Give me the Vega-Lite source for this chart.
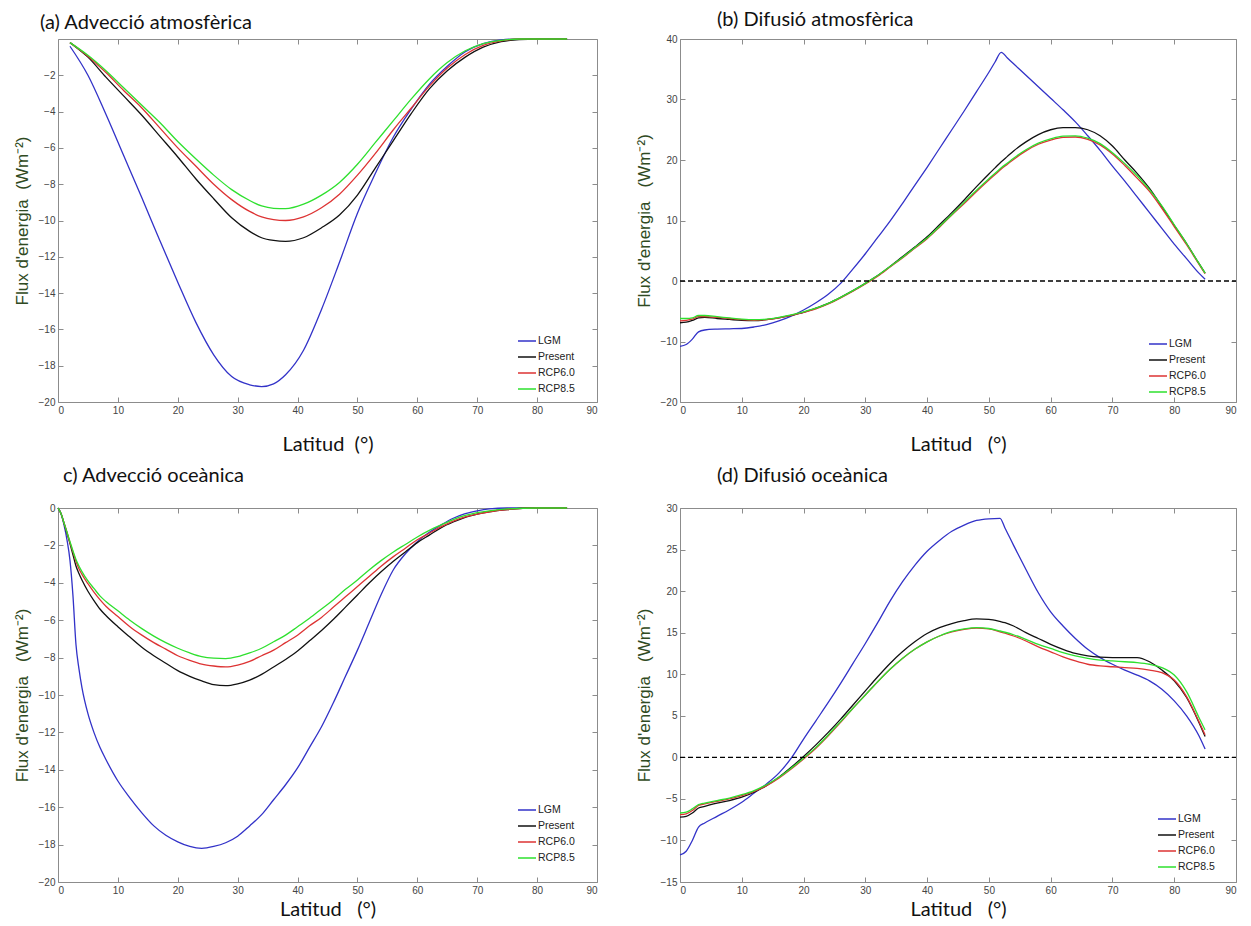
{
  "$schema": "https://vega.github.io/schema/vega-lite/v6.json",
  "background": "white",
  "padding": {"left": 12, "top": 9, "right": 5, "bottom": 5},
  "config": {
    "view": {"stroke": "#8c8c8c", "strokeWidth": 1},
    "axis": {"grid": false, "domain": false, "tickSize": -5, "tickColor": "#8c8c8c", "labelPadding": 8, "labelFont": "Liberation Sans", "labelFontSize": 10, "labelColor": "#444444", "titleFontWeight": "normal"},
    "axisX": {"titleFont": "Lato", "titleFontSize": 20, "titleColor": "#111111", "titlePadding": 19},
    "axisY": {"titleFont": "Liberation Sans", "titleFontSize": 17, "titleColor": "#2f4a22", "titlePadding": 7},
    "title": {"font": "Lato", "fontSize": 20, "fontWeight": "normal", "anchor": "start", "frame": "group", "color": "#111111", "baseline": "alphabetic"},
    "legend": {"orient": "none", "title": null, "symbolType": "stroke", "symbolSize": 324, "symbolStrokeWidth": 1.5, "labelFont": "Liberation Sans", "labelFontSize": 10.5, "labelColor": "#222222", "labelOffset": 1, "rowPadding": -6}
  },
  "datasets": {
    "a": [
      {"lat": 2, "LGM": -0.4, "Present": -0.2, "RCP60": -0.2, "RCP85": -0.2},
      {"lat": 5, "LGM": -2.0, "Present": -1.0, "RCP60": -0.95, "RCP85": -0.9},
      {"lat": 8, "LGM": -4.15, "Present": -2.1, "RCP60": -1.85, "RCP85": -1.75},
      {"lat": 11, "LGM": -6.45, "Present": -3.15, "RCP60": -2.85, "RCP85": -2.7},
      {"lat": 14, "LGM": -8.75, "Present": -4.2, "RCP60": -3.8, "RCP85": -3.65},
      {"lat": 17, "LGM": -11.1, "Present": -5.35, "RCP60": -4.9, "RCP85": -4.6},
      {"lat": 20, "LGM": -13.4, "Present": -6.5, "RCP60": -6.0, "RCP85": -5.65},
      {"lat": 23, "LGM": -15.6, "Present": -7.7, "RCP60": -7.0, "RCP85": -6.6},
      {"lat": 26, "LGM": -17.4, "Present": -8.8, "RCP60": -8.0, "RCP85": -7.5},
      {"lat": 29, "LGM": -18.6, "Present": -9.85, "RCP60": -8.85, "RCP85": -8.3},
      {"lat": 32, "LGM": -19.05, "Present": -10.6, "RCP60": -9.5, "RCP85": -8.9},
      {"lat": 34, "LGM": -19.15, "Present": -10.95, "RCP60": -9.8, "RCP85": -9.2},
      {"lat": 36, "LGM": -19.0, "Present": -11.1, "RCP60": -9.95, "RCP85": -9.33},
      {"lat": 38, "LGM": -18.5, "Present": -11.15, "RCP60": -10.0, "RCP85": -9.35},
      {"lat": 41, "LGM": -17.15, "Present": -10.95, "RCP60": -9.8, "RCP85": -9.1},
      {"lat": 44, "LGM": -14.9, "Present": -10.4, "RCP60": -9.3, "RCP85": -8.6},
      {"lat": 47, "LGM": -12.3, "Present": -9.7, "RCP60": -8.55, "RCP85": -7.9},
      {"lat": 50, "LGM": -9.6, "Present": -8.6, "RCP60": -7.5, "RCP85": -6.9},
      {"lat": 53, "LGM": -7.4, "Present": -7.1, "RCP60": -6.3, "RCP85": -5.7},
      {"lat": 56, "LGM": -5.4, "Present": -5.6, "RCP60": -5.0, "RCP85": -4.5},
      {"lat": 59, "LGM": -3.85, "Present": -4.1, "RCP60": -3.8, "RCP85": -3.3},
      {"lat": 62, "LGM": -2.5, "Present": -2.75, "RCP60": -2.6, "RCP85": -2.2},
      {"lat": 65, "LGM": -1.5, "Present": -1.75, "RCP60": -1.6, "RCP85": -1.3},
      {"lat": 68, "LGM": -0.7, "Present": -1.0, "RCP60": -0.85, "RCP85": -0.65},
      {"lat": 71, "LGM": -0.25, "Present": -0.45, "RCP60": -0.35, "RCP85": -0.25},
      {"lat": 74, "LGM": -0.05, "Present": -0.15, "RCP60": -0.1, "RCP85": -0.07},
      {"lat": 77, "LGM": 0, "Present": -0.03, "RCP60": 0, "RCP85": 0},
      {"lat": 80, "LGM": 0, "Present": 0, "RCP60": 0, "RCP85": 0},
      {"lat": 85, "LGM": 0, "Present": 0, "RCP60": 0, "RCP85": 0}
    ],
    "b": [
      {"lat": 0, "LGM": -10.8, "Present": -6.9, "RCP60": -6.6, "RCP85": -6.2},
      {"lat": 1, "LGM": -10.5, "Present": -6.8, "RCP60": -6.5, "RCP85": -6.2},
      {"lat": 2, "LGM": -9.6, "Present": -6.5, "RCP60": -6.3, "RCP85": -6.1},
      {"lat": 3, "LGM": -8.4, "Present": -6.1, "RCP60": -5.9, "RCP85": -5.7},
      {"lat": 4, "LGM": -8.1, "Present": -6.0, "RCP60": -5.9, "RCP85": -5.7},
      {"lat": 6, "LGM": -7.95, "Present": -6.2, "RCP60": -6.0, "RCP85": -5.9},
      {"lat": 8, "LGM": -7.9, "Present": -6.35, "RCP60": -6.2, "RCP85": -6.1},
      {"lat": 10, "LGM": -7.85, "Present": -6.5, "RCP60": -6.4, "RCP85": -6.3},
      {"lat": 12, "LGM": -7.6, "Present": -6.55, "RCP60": -6.5, "RCP85": -6.4},
      {"lat": 14, "LGM": -7.2, "Present": -6.4, "RCP60": -6.4, "RCP85": -6.3},
      {"lat": 16, "LGM": -6.6, "Present": -6.1, "RCP60": -6.1, "RCP85": -6.0},
      {"lat": 18, "LGM": -5.8, "Present": -5.7, "RCP60": -5.7, "RCP85": -5.6},
      {"lat": 20, "LGM": -4.8, "Present": -5.2, "RCP60": -5.2, "RCP85": -5.1},
      {"lat": 22, "LGM": -3.6, "Present": -4.5, "RCP60": -4.6, "RCP85": -4.5},
      {"lat": 24, "LGM": -2.2, "Present": -3.7, "RCP60": -3.8, "RCP85": -3.7},
      {"lat": 26, "LGM": -0.4, "Present": -2.7, "RCP60": -2.8, "RCP85": -2.7},
      {"lat": 28, "LGM": 2.0, "Present": -1.6, "RCP60": -1.7, "RCP85": -1.6},
      {"lat": 30, "LGM": 4.5, "Present": -0.4, "RCP60": -0.5, "RCP85": -0.4},
      {"lat": 32, "LGM": 7.2, "Present": 0.9, "RCP60": 0.8, "RCP85": 0.9},
      {"lat": 34, "LGM": 9.9, "Present": 2.4, "RCP60": 2.3, "RCP85": 2.4},
      {"lat": 36, "LGM": 12.8, "Present": 4.0, "RCP60": 3.8, "RCP85": 3.9},
      {"lat": 38, "LGM": 15.8, "Present": 5.6, "RCP60": 5.4, "RCP85": 5.5},
      {"lat": 40, "LGM": 18.8, "Present": 7.3, "RCP60": 7.0, "RCP85": 7.1},
      {"lat": 42, "LGM": 21.9, "Present": 9.3, "RCP60": 8.9, "RCP85": 9.0},
      {"lat": 44, "LGM": 25.0, "Present": 11.3, "RCP60": 10.9, "RCP85": 11.0},
      {"lat": 46, "LGM": 28.1, "Present": 13.4, "RCP60": 12.8, "RCP85": 13.0},
      {"lat": 48, "LGM": 31.3, "Present": 15.6, "RCP60": 14.8, "RCP85": 15.0},
      {"lat": 50, "LGM": 34.5, "Present": 17.7, "RCP60": 16.7, "RCP85": 16.9},
      {"lat": 51, "LGM": 36.2, "Present": 18.7, "RCP60": 17.6, "RCP85": 17.8},
      {"lat": 52, "LGM": 37.8, "Present": 19.7, "RCP60": 18.5, "RCP85": 18.7},
      {"lat": 53, "LGM": 36.85, "Present": 20.6, "RCP60": 19.3, "RCP85": 19.5},
      {"lat": 54, "LGM": 35.9, "Present": 21.5, "RCP60": 20.1, "RCP85": 20.3},
      {"lat": 56, "LGM": 34.0, "Present": 23.0, "RCP60": 21.5, "RCP85": 21.7},
      {"lat": 58, "LGM": 32.1, "Present": 24.2, "RCP60": 22.6, "RCP85": 22.8},
      {"lat": 60, "LGM": 30.2, "Present": 25.0, "RCP60": 23.3, "RCP85": 23.5},
      {"lat": 62, "LGM": 28.3, "Present": 25.35, "RCP60": 23.75, "RCP85": 23.95},
      {"lat": 64, "LGM": 26.3, "Present": 25.35, "RCP60": 23.8, "RCP85": 24.0},
      {"lat": 66, "LGM": 24.0, "Present": 25.0, "RCP60": 23.4, "RCP85": 23.6},
      {"lat": 68, "LGM": 21.6, "Present": 24.0, "RCP60": 22.5, "RCP85": 22.7},
      {"lat": 70, "LGM": 19.0, "Present": 22.3, "RCP60": 21.0, "RCP85": 21.2},
      {"lat": 72, "LGM": 16.5, "Present": 20.0, "RCP60": 19.1, "RCP85": 19.4},
      {"lat": 74, "LGM": 13.9, "Present": 17.8, "RCP60": 17.0, "RCP85": 17.4},
      {"lat": 76, "LGM": 11.3, "Present": 15.3, "RCP60": 14.8, "RCP85": 15.1},
      {"lat": 78, "LGM": 8.7, "Present": 12.3, "RCP60": 12.0, "RCP85": 12.4},
      {"lat": 80, "LGM": 6.1, "Present": 9.2, "RCP60": 9.0, "RCP85": 9.3},
      {"lat": 82, "LGM": 3.7, "Present": 6.2, "RCP60": 6.0, "RCP85": 6.2},
      {"lat": 84, "LGM": 1.3, "Present": 2.9, "RCP60": 2.8, "RCP85": 2.9},
      {"lat": 85, "LGM": 0.3, "Present": 1.3, "RCP60": 1.2, "RCP85": 1.3}
    ],
    "c": [
      {"lat": 0, "LGM": 0, "Present": 0, "RCP60": 0, "RCP85": 0},
      {"lat": 0.5, "LGM": -0.3, "Present": -0.3, "RCP60": -0.3, "RCP85": -0.3},
      {"lat": 1, "LGM": -0.9, "Present": -0.8, "RCP60": -0.8, "RCP85": -0.8},
      {"lat": 1.5, "LGM": -1.7, "Present": -1.35, "RCP60": -1.3, "RCP85": -1.3},
      {"lat": 2, "LGM": -2.8, "Present": -1.9, "RCP60": -1.85, "RCP85": -1.8},
      {"lat": 2.5, "LGM": -4.7, "Present": -2.5, "RCP60": -2.35, "RCP85": -2.3},
      {"lat": 3, "LGM": -7.3, "Present": -3.1, "RCP60": -2.85, "RCP85": -2.75},
      {"lat": 3.5, "LGM": -8.6, "Present": -3.5, "RCP60": -3.25, "RCP85": -3.1},
      {"lat": 4, "LGM": -9.6, "Present": -3.85, "RCP60": -3.55, "RCP85": -3.4},
      {"lat": 5, "LGM": -11.0, "Present": -4.45, "RCP60": -4.05, "RCP85": -3.9},
      {"lat": 6, "LGM": -12.0, "Present": -4.95, "RCP60": -4.5, "RCP85": -4.3},
      {"lat": 7, "LGM": -12.8, "Present": -5.4, "RCP60": -4.9, "RCP85": -4.7},
      {"lat": 8, "LGM": -13.45, "Present": -5.75, "RCP60": -5.25, "RCP85": -5.0},
      {"lat": 10, "LGM": -14.6, "Present": -6.35, "RCP60": -5.8, "RCP85": -5.5},
      {"lat": 12, "LGM": -15.5, "Present": -6.9, "RCP60": -6.35, "RCP85": -6.0},
      {"lat": 14, "LGM": -16.3, "Present": -7.45, "RCP60": -6.8, "RCP85": -6.45},
      {"lat": 16, "LGM": -17.0, "Present": -7.9, "RCP60": -7.2, "RCP85": -6.85},
      {"lat": 18, "LGM": -17.5, "Present": -8.3, "RCP60": -7.55, "RCP85": -7.2},
      {"lat": 20, "LGM": -17.85, "Present": -8.7, "RCP60": -7.9, "RCP85": -7.5},
      {"lat": 22, "LGM": -18.1, "Present": -9.0, "RCP60": -8.15, "RCP85": -7.75},
      {"lat": 24, "LGM": -18.2, "Present": -9.25, "RCP60": -8.35, "RCP85": -7.95},
      {"lat": 26, "LGM": -18.1, "Present": -9.45, "RCP60": -8.45, "RCP85": -8.03},
      {"lat": 28, "LGM": -17.9, "Present": -9.5, "RCP60": -8.5, "RCP85": -8.05},
      {"lat": 30, "LGM": -17.55, "Present": -9.4, "RCP60": -8.4, "RCP85": -7.95},
      {"lat": 32, "LGM": -17.0, "Present": -9.2, "RCP60": -8.2, "RCP85": -7.75},
      {"lat": 34, "LGM": -16.4, "Present": -8.9, "RCP60": -7.9, "RCP85": -7.5},
      {"lat": 36, "LGM": -15.6, "Present": -8.5, "RCP60": -7.6, "RCP85": -7.15},
      {"lat": 38, "LGM": -14.8, "Present": -8.1, "RCP60": -7.2, "RCP85": -6.8},
      {"lat": 40, "LGM": -13.9, "Present": -7.65, "RCP60": -6.8, "RCP85": -6.35},
      {"lat": 42, "LGM": -12.8, "Present": -7.1, "RCP60": -6.3, "RCP85": -5.9},
      {"lat": 44, "LGM": -11.7, "Present": -6.55, "RCP60": -5.85, "RCP85": -5.4},
      {"lat": 46, "LGM": -10.4, "Present": -5.95, "RCP60": -5.3, "RCP85": -4.9},
      {"lat": 48, "LGM": -9.0, "Present": -5.3, "RCP60": -4.75, "RCP85": -4.35},
      {"lat": 50, "LGM": -7.6, "Present": -4.65, "RCP60": -4.2, "RCP85": -3.85},
      {"lat": 52, "LGM": -6.1, "Present": -4.0, "RCP60": -3.65, "RCP85": -3.3},
      {"lat": 54, "LGM": -4.6, "Present": -3.4, "RCP60": -3.1, "RCP85": -2.8},
      {"lat": 56, "LGM": -3.3, "Present": -2.85, "RCP60": -2.6, "RCP85": -2.35},
      {"lat": 58, "LGM": -2.45, "Present": -2.35, "RCP60": -2.15, "RCP85": -1.95},
      {"lat": 60, "LGM": -1.8, "Present": -1.85, "RCP60": -1.7, "RCP85": -1.55},
      {"lat": 62, "LGM": -1.3, "Present": -1.45, "RCP60": -1.35, "RCP85": -1.2},
      {"lat": 64, "LGM": -0.9, "Present": -1.05, "RCP60": -1.0, "RCP85": -0.9},
      {"lat": 66, "LGM": -0.55, "Present": -0.75, "RCP60": -0.7, "RCP85": -0.62},
      {"lat": 68, "LGM": -0.3, "Present": -0.5, "RCP60": -0.48, "RCP85": -0.4},
      {"lat": 70, "LGM": -0.15, "Present": -0.33, "RCP60": -0.33, "RCP85": -0.25},
      {"lat": 72, "LGM": -0.05, "Present": -0.2, "RCP60": -0.2, "RCP85": -0.15},
      {"lat": 75, "LGM": 0, "Present": -0.08, "RCP60": -0.08, "RCP85": -0.05},
      {"lat": 80, "LGM": 0, "Present": 0, "RCP60": 0, "RCP85": 0},
      {"lat": 85, "LGM": 0, "Present": 0, "RCP60": 0, "RCP85": 0}
    ],
    "d": [
      {"lat": 0, "LGM": -11.75, "Present": -7.2, "RCP60": -6.9, "RCP85": -6.7},
      {"lat": 1, "LGM": -11.3, "Present": -7.1, "RCP60": -6.8, "RCP85": -6.6},
      {"lat": 2, "LGM": -10.0, "Present": -6.7, "RCP60": -6.4, "RCP85": -6.2},
      {"lat": 3, "LGM": -8.4, "Present": -6.1, "RCP60": -5.8, "RCP85": -5.7},
      {"lat": 4, "LGM": -7.9, "Present": -5.9, "RCP60": -5.6, "RCP85": -5.5},
      {"lat": 6, "LGM": -7.1, "Present": -5.5, "RCP60": -5.3, "RCP85": -5.2},
      {"lat": 8, "LGM": -6.3, "Present": -5.2, "RCP60": -5.0, "RCP85": -4.9},
      {"lat": 10, "LGM": -5.4, "Present": -4.8, "RCP60": -4.6, "RCP85": -4.5},
      {"lat": 12, "LGM": -4.3, "Present": -4.2, "RCP60": -4.1, "RCP85": -4.0},
      {"lat": 14, "LGM": -3.2, "Present": -3.4, "RCP60": -3.4, "RCP85": -3.3},
      {"lat": 16, "LGM": -1.9, "Present": -2.4, "RCP60": -2.5, "RCP85": -2.4},
      {"lat": 18, "LGM": -0.1, "Present": -1.2, "RCP60": -1.4, "RCP85": -1.3},
      {"lat": 20, "LGM": 2.2, "Present": 0.1, "RCP60": -0.2, "RCP85": -0.1},
      {"lat": 22, "LGM": 4.4, "Present": 1.5, "RCP60": 1.1, "RCP85": 1.2},
      {"lat": 24, "LGM": 6.6, "Present": 3.0, "RCP60": 2.6, "RCP85": 2.7},
      {"lat": 26, "LGM": 8.9, "Present": 4.6, "RCP60": 4.2, "RCP85": 4.3},
      {"lat": 28, "LGM": 11.3, "Present": 6.3, "RCP60": 5.9, "RCP85": 5.9},
      {"lat": 30, "LGM": 13.7, "Present": 8.0, "RCP60": 7.5, "RCP85": 7.5},
      {"lat": 32, "LGM": 16.2, "Present": 9.7, "RCP60": 9.1, "RCP85": 9.1},
      {"lat": 34, "LGM": 18.8, "Present": 11.3, "RCP60": 10.6, "RCP85": 10.6},
      {"lat": 36, "LGM": 21.1, "Present": 12.7, "RCP60": 11.9, "RCP85": 11.9},
      {"lat": 38, "LGM": 23.1, "Present": 13.9, "RCP60": 13.0, "RCP85": 13.0},
      {"lat": 40, "LGM": 24.8, "Present": 14.9, "RCP60": 13.9, "RCP85": 13.9},
      {"lat": 42, "LGM": 26.1, "Present": 15.6, "RCP60": 14.6, "RCP85": 14.6},
      {"lat": 44, "LGM": 27.2, "Present": 16.1, "RCP60": 15.1, "RCP85": 15.15},
      {"lat": 46, "LGM": 27.95, "Present": 16.45, "RCP60": 15.4, "RCP85": 15.45},
      {"lat": 48, "LGM": 28.5, "Present": 16.65, "RCP60": 15.55, "RCP85": 15.6},
      {"lat": 50, "LGM": 28.7, "Present": 16.6, "RCP60": 15.45, "RCP85": 15.5},
      {"lat": 51.8, "LGM": 28.75, "Present": 16.35, "RCP60": 15.1, "RCP85": 15.2},
      {"lat": 52.6, "LGM": 27.6, "Present": 16.2, "RCP60": 14.95, "RCP85": 15.05},
      {"lat": 54, "LGM": 25.5, "Present": 15.8, "RCP60": 14.6, "RCP85": 14.75},
      {"lat": 56, "LGM": 22.6, "Present": 15.0, "RCP60": 14.0, "RCP85": 14.2},
      {"lat": 58, "LGM": 19.8, "Present": 14.3, "RCP60": 13.3, "RCP85": 13.6},
      {"lat": 60, "LGM": 17.5, "Present": 13.6, "RCP60": 12.7, "RCP85": 13.1},
      {"lat": 62, "LGM": 15.8, "Present": 13.0, "RCP60": 12.1, "RCP85": 12.6},
      {"lat": 64, "LGM": 14.3, "Present": 12.5, "RCP60": 11.6, "RCP85": 12.2},
      {"lat": 66, "LGM": 13.0, "Present": 12.2, "RCP60": 11.2, "RCP85": 11.9},
      {"lat": 68, "LGM": 12.0, "Present": 12.05, "RCP60": 11.0, "RCP85": 11.7},
      {"lat": 70, "LGM": 11.2, "Present": 12.0, "RCP60": 10.9, "RCP85": 11.6},
      {"lat": 72, "LGM": 10.5, "Present": 12.0, "RCP60": 10.8, "RCP85": 11.5},
      {"lat": 74, "LGM": 9.9, "Present": 12.0, "RCP60": 10.7, "RCP85": 11.4},
      {"lat": 76, "LGM": 9.2, "Present": 11.5, "RCP60": 10.5, "RCP85": 11.2},
      {"lat": 78, "LGM": 8.2, "Present": 10.5, "RCP60": 10.2, "RCP85": 10.8},
      {"lat": 80, "LGM": 6.8, "Present": 9.2, "RCP60": 9.3, "RCP85": 9.9},
      {"lat": 82, "LGM": 5.0, "Present": 7.2, "RCP60": 7.3, "RCP85": 7.9},
      {"lat": 84, "LGM": 2.6, "Present": 4.2, "RCP60": 4.3, "RCP85": 4.8},
      {"lat": 85, "LGM": 1.0, "Present": 2.5, "RCP60": 2.7, "RCP85": 3.3}
    ]
  },
  "columns": 2,
  "spacing": {"row": 10, "column": 36},
  "resolve": {"scale": {"color": "independent"}, "legend": {"color": "independent"}},
  "concat": [
    {
      "width": 539, "height": 363,
      "title": {"text": "(a) Advecció atmosfèrica", "dx": -18, "offset": 3},
      "layer": [
        {
          "data": {"name": "a"},
          "transform": [{"fold": ["LGM", "Present", "RCP60", "RCP85"], "as": ["s", "flux"]}],
          "mark": {"type": "line", "interpolate": "monotone", "strokeWidth": 1.3},
          "encoding": {
            "x": {"field": "lat", "type": "quantitative", "scale": {"domain": [0, 90], "nice": false, "zero": false}, "axis": {"orient": "bottom", "values": [0, 10, 20, 30, 40, 50, 60, 70, 80, 90], "title": "Latitud\u00a0\u00a0(°)"}},
            "y": {"field": "flux", "type": "quantitative", "scale": {"domain": [-20, 0], "nice": false, "zero": false}, "axis": {"orient": "left", "values": [-2, -4, -6, -8, -10, -12, -14, -16, -18, -20], "title": "Flux d'energia\u00a0\u00a0(Wm⁻²)"}},
            "color": {"field": "s", "type": "nominal", "scale": {"domain": ["LGM", "Present", "RCP60", "RCP85"], "range": ["#3232c8", "#111111", "#dd3333", "#2ee02e"]}, "legend": {"legendX": 459, "legendY": 292, "labelExpr": "datum.label == 'RCP60' ? 'RCP6.0' : (datum.label == 'RCP85' ? 'RCP8.5' : datum.label)"}}
          }
        },
        {
          "data": {"values": [{}]},
          "mark": {"type": "rule", "opacity": 0},
          "encoding": {
            "x": {"datum": 0, "type": "quantitative", "axis": {"orient": "top", "labels": false, "title": null, "values": [0, 10, 20, 30, 40, 50, 60, 70, 80, 90]}},
            "x2": {"datum": 90},
            "y": {"datum": 0, "type": "quantitative", "axis": {"orient": "right", "labels": false, "title": null, "values": [-2, -4, -6, -8, -10, -12, -14, -16, -18, -20]}}
          }
        }
      ],
      "resolve": {"axis": {"x": "independent", "y": "independent"}}
    },
    {
      "width": 556, "height": 363,
      "title": {"text": "(b) Difusió atmosfèrica", "dx": 37, "offset": 4},
      "layer": [
        {
          "data": {"name": "b"},
          "transform": [{"fold": ["LGM", "Present", "RCP60", "RCP85"], "as": ["s", "flux"]}],
          "mark": {"type": "line", "interpolate": "monotone", "strokeWidth": 1.3},
          "encoding": {
            "x": {"field": "lat", "type": "quantitative", "scale": {"domain": [0, 90], "nice": false, "zero": false}, "axis": {"orient": "bottom", "values": [0, 10, 20, 30, 40, 50, 60, 70, 80, 90], "title": "Latitud\u00a0\u00a0\u00a0(°)"}},
            "y": {"field": "flux", "type": "quantitative", "scale": {"domain": [-20, 40], "nice": false, "zero": false}, "axis": {"orient": "left", "values": [-20, -10, 0, 10, 20, 30, 40], "title": "Flux d'energia\u00a0\u00a0\u00a0(Wm⁻²)"}},
            "color": {"field": "s", "type": "nominal", "scale": {"domain": ["LGM", "Present", "RCP60", "RCP85"], "range": ["#3232c8", "#111111", "#dd3333", "#2ee02e"]}, "legend": {"legendX": 468, "legendY": 295, "labelExpr": "datum.label == 'RCP60' ? 'RCP6.0' : (datum.label == 'RCP85' ? 'RCP8.5' : datum.label)"}}
          }
        },
        {
          "data": {"values": [{}]},
          "mark": {"type": "rule", "color": "#000000", "strokeDash": [5, 3], "strokeWidth": 1.3},
          "encoding": {
            "x": {"datum": 0, "type": "quantitative", "axis": {"orient": "top", "labels": false, "title": null, "values": [0, 10, 20, 30, 40, 50, 60, 70, 80, 90]}},
            "x2": {"datum": 90},
            "y": {"datum": 0, "type": "quantitative", "axis": {"orient": "right", "labels": false, "title": null, "values": [-20, -10, 0, 10, 20, 30, 40]}}
          }
        }
      ],
      "resolve": {"axis": {"x": "independent", "y": "independent"}}
    },
    {
      "width": 539, "height": 374,
      "title": {"text": "c) Advecció oceànica", "dx": 5, "offset": 17},
      "layer": [
        {
          "data": {"name": "c"},
          "transform": [{"fold": ["LGM", "Present", "RCP60", "RCP85"], "as": ["s", "flux"]}],
          "mark": {"type": "line", "interpolate": "monotone", "strokeWidth": 1.3},
          "encoding": {
            "x": {"field": "lat", "type": "quantitative", "scale": {"domain": [0, 90], "nice": false, "zero": false}, "axis": {"orient": "bottom", "values": [0, 10, 20, 30, 40, 50, 60, 70, 80, 90], "title": "Latitud\u00a0\u00a0\u00a0(°)", "titlePadding": 4}},
            "y": {"field": "flux", "type": "quantitative", "scale": {"domain": [-20, 0], "nice": false, "zero": false}, "axis": {"orient": "left", "values": [0, -2, -4, -6, -8, -10, -12, -14, -16, -18, -20], "title": "Flux d'energia\u00a0\u00a0\u00a0(Wm⁻²)"}},
            "color": {"field": "s", "type": "nominal", "scale": {"domain": ["LGM", "Present", "RCP60", "RCP85"], "range": ["#3232c8", "#111111", "#dd3333", "#2ee02e"]}, "legend": {"legendX": 459, "legendY": 292, "labelExpr": "datum.label == 'RCP60' ? 'RCP6.0' : (datum.label == 'RCP85' ? 'RCP8.5' : datum.label)"}}
          }
        },
        {
          "data": {"values": [{}]},
          "mark": {"type": "rule", "opacity": 0},
          "encoding": {
            "x": {"datum": 0, "type": "quantitative", "axis": {"orient": "top", "labels": false, "title": null, "values": [0, 10, 20, 30, 40, 50, 60, 70, 80, 90]}},
            "x2": {"datum": 90},
            "y": {"datum": 0, "type": "quantitative", "axis": {"orient": "right", "labels": false, "title": null, "values": [0, -2, -4, -6, -8, -10, -12, -14, -16, -18, -20]}}
          }
        }
      ],
      "resolve": {"axis": {"x": "independent", "y": "independent"}}
    },
    {
      "width": 556, "height": 374,
      "title": {"text": "(d) Difusió oceànica", "dx": 37, "offset": 17},
      "layer": [
        {
          "data": {"name": "d"},
          "transform": [{"fold": ["LGM", "Present", "RCP60", "RCP85"], "as": ["s", "flux"]}],
          "mark": {"type": "line", "interpolate": "monotone", "strokeWidth": 1.3},
          "encoding": {
            "x": {"field": "lat", "type": "quantitative", "scale": {"domain": [0, 90], "nice": false, "zero": false}, "axis": {"orient": "bottom", "values": [0, 10, 20, 30, 40, 50, 60, 70, 80, 90], "title": "Latitud\u00a0\u00a0\u00a0(°)", "titlePadding": 4}},
            "y": {"field": "flux", "type": "quantitative", "scale": {"domain": [-15, 30], "nice": false, "zero": false}, "axis": {"orient": "left", "values": [-15, -10, -5, 0, 5, 10, 15, 20, 25, 30], "title": "Flux d'energia\u00a0\u00a0\u00a0(Wm⁻²)"}},
            "color": {"field": "s", "type": "nominal", "scale": {"domain": ["LGM", "Present", "RCP60", "RCP85"], "range": ["#3232c8", "#111111", "#dd3333", "#2ee02e"]}, "legend": {"legendX": 477, "legendY": 301, "labelExpr": "datum.label == 'RCP60' ? 'RCP6.0' : (datum.label == 'RCP85' ? 'RCP8.5' : datum.label)"}}
          }
        },
        {
          "data": {"values": [{}]},
          "mark": {"type": "rule", "color": "#000000", "strokeDash": [5, 3], "strokeWidth": 1.3},
          "encoding": {
            "x": {"datum": 0, "type": "quantitative", "axis": {"orient": "top", "labels": false, "title": null, "values": [0, 10, 20, 30, 40, 50, 60, 70, 80, 90]}},
            "x2": {"datum": 90},
            "y": {"datum": 0, "type": "quantitative", "axis": {"orient": "right", "labels": false, "title": null, "values": [-15, -10, -5, 0, 5, 10, 15, 20, 25, 30]}}
          }
        }
      ],
      "resolve": {"axis": {"x": "independent", "y": "independent"}}
    }
  ]
}
